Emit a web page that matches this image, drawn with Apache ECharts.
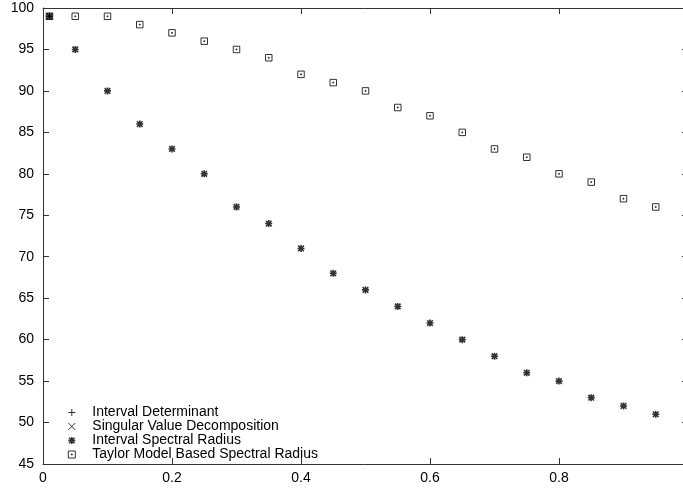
<!DOCTYPE html>
<html><head><meta charset="utf-8">
<script src="https://cdn.jsdelivr.net/npm/echarts@6/dist/echarts.min.js"></script>
<style>html,body{margin:0;padding:0;background:#fff}#c{width:683px;height:489px}</style>
</head><body><div id="c"></div>
<script>
const seriesNames = ["Interval Determinant", "Singular Value Decomposition", "Interval Spectral Radius", "Taylor Model Based Spectral Radius"];
const xDet = [0.01];
const yDet = [99];
const xSvd = [0.01];
const ySvd = [99];
const xVals = [0.01, 0.05, 0.1, 0.15, 0.2, 0.25, 0.3, 0.35, 0.4, 0.45, 0.5, 0.55, 0.6, 0.65, 0.7, 0.75, 0.8, 0.85, 0.9, 0.95];
const ySpectral = [99, 95, 90, 86, 83, 80, 76, 74, 71, 68, 66, 64, 62, 60, 58, 56, 55, 53, 52, 51];
const yTaylor = [99, 99, 99, 98, 97, 96, 95, 94, 92, 91, 90, 88, 87, 85, 83, 82, 80, 79, 77, 76];
const xTicks = [0, 0.2, 0.4, 0.6, 0.8];
const yTicks = [45, 50, 55, 60, 65, 70, 75, 80, 85, 90, 95, 100];

const SYM = {
  plus: 'path://M0,5L10,5M5,0L5,10',
  cross: 'path://M0,0L10,10M10,0L0,10',
  star: 'path://M0,5L10,5M5,0L5,10M1,1L9,9M9,1L1,9',
  box: 'path://M0,0L10,0L10,10L0,10ZM4.3,4.3L5.7,4.3L5.7,5.7L4.3,5.7Z'
};
const syms = [SYM.plus, SYM.cross, SYM.star, SYM.box];
const sizes = [7, 7, 7, 6.5];
const widths = [1, 1, 1.6, 1];
const xs = [xDet, xSvd, xVals, xVals];
const ys = [yDet, ySvd, ySpectral, yTaylor];

const font = 'Liberation Sans, Arial, Helvetica, sans-serif';
const axisCol = '#333';
const chart = echarts.init(document.getElementById('c'));
const tx = new Set(xTicks.map(v => v.toFixed(1)));
const ty = new Set(yTicks);
chart.setOption({
  animation: false,
  backgroundColor: '#fff',
  grid: { left: 43, top: 8, width: 645, height: 456, containLabel: false, outerBoundsMode: 'none' },
  legend: {
    orient: 'vertical', left: 67.5, top: 405.5, padding: 0,
    itemWidth: 7, itemHeight: 7, itemGap: 0,
    textStyle: { fontFamily: font, fontSize: 14, color: '#000', lineHeight: 13.5, padding: [0, 0, 0, 12] },
    data: seriesNames.map((n, i) => ({
      name: n, icon: syms[i],
      itemStyle: { color: 'rgba(0,0,0,0)', borderColor: '#000', borderWidth: widths[i] }
    }))
  },
  xAxis: [{
    type: 'value', min: 0, max: 1, interval: 0.2, position: 'bottom',
    axisLine: { show: true, lineStyle: { color: axisCol, width: 1 } },
    axisTick: { show: true, inside: true, length: 6, lineStyle: { color: axisCol } },
    splitLine: { show: false },
    axisLabel: { margin: 7, fontFamily: font, fontSize: 14, color: '#000',
      formatter: v => tx.has(v.toFixed(1)) ? String(+v.toFixed(1)) : '' }
  }, {
    type: 'value', min: 0, max: 1, interval: 0.2, position: 'top',
    axisLine: { show: true, onZero: false, lineStyle: { color: axisCol, width: 1 } },
    axisTick: { show: true, inside: true, length: 6, lineStyle: { color: axisCol } },
    splitLine: { show: false }, axisLabel: { show: false }
  }],
  yAxis: [{
    type: 'value', min: 45, max: 100, interval: 5, position: 'left',
    axisLine: { show: true, lineStyle: { color: axisCol, width: 1 } },
    axisTick: { show: true, inside: true, length: 6, lineStyle: { color: axisCol } },
    splitLine: { show: false },
    axisLabel: { margin: 9, fontFamily: font, fontSize: 14, color: '#000',
      formatter: v => ty.has(v) ? String(v) : '' }
  }, {
    type: 'value', min: 45, max: 100, interval: 5, position: 'right',
    axisLine: { show: true, onZero: false, lineStyle: { color: axisCol, width: 1 } },
    axisTick: { show: true, inside: true, length: 6, lineStyle: { color: axisCol } },
    splitLine: { show: false }, axisLabel: { show: false }
  }],
  series: seriesNames.map((n, i) => ({
    name: n, type: 'scatter', xAxisIndex: 0, yAxisIndex: 0,
    symbol: syms[i], symbolSize: sizes[i], symbolKeepAspect: true,
    itemStyle: { color: 'rgba(0,0,0,0)', borderColor: '#000', borderWidth: widths[i] },
    emphasis: { disabled: true },
    data: xs[i].map((x, k) => [x, ys[i][k]])
  }))
});
</script></body></html>
